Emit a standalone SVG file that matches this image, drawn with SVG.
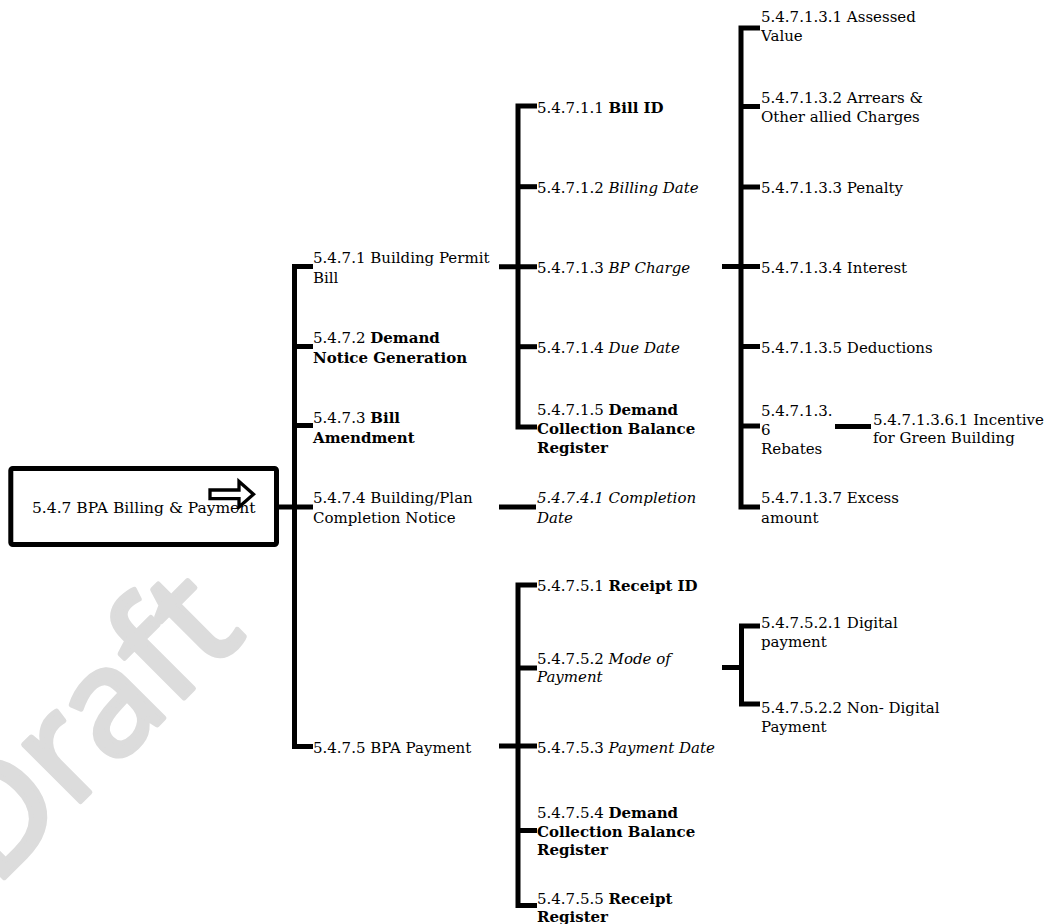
<svg xmlns="http://www.w3.org/2000/svg" width="1050" height="924" viewBox="0 0 1050 924">
<style>
.t{font-family:"DejaVu Serif",serif;font-size:15px;fill:#000}
.b{font-weight:bold}
.i{font-style:italic}
.ln{fill:none;stroke:#000;stroke-width:5;stroke-linejoin:miter;stroke-linecap:butt}
.wm{font-family:"Noto Sans",sans-serif;font-size:150px;fill:#dcdcdc;stroke:#dcdcdc;stroke-width:5;stroke-linejoin:round}
</style>
<rect x="0" y="0" width="1050" height="924" fill="#fff"/>
<text class="wm" x="-6" y="888" transform="rotate(-45 -6 888)">Draft</text>

<g id="connectors">
<path class="ln" d="M278 507 H313"/>
<path class="ln" d="M313 266.5 H294.5 V746.5 H313"/>
<path class="ln" d="M294.5 346.5 H313"/>
<path class="ln" d="M294.5 425.5 H313"/>
<path class="ln" d="M499 266.7 H537"/>
<path class="ln" d="M537 106 H518 V427 H537"/>
<path class="ln" d="M518 186.7 H537"/>
<path class="ln" d="M518 346.7 H537"/>
<path class="ln" d="M499 507 H536"/>
<path class="ln" d="M499 746 H537"/>
<path class="ln" d="M537 585 H518 V905.5 H537"/>
<path class="ln" d="M518 668 H537"/>
<path class="ln" d="M518 830.5 H537"/>
<path class="ln" d="M722 266.5 H760"/>
<path class="ln" d="M760 28 H741 V507 H760"/>
<path class="ln" d="M741 106.5 H760"/>
<path class="ln" d="M741 187 H760"/>
<path class="ln" d="M741 346.5 H760"/>
<path class="ln" d="M741 426 H760"/>
<path class="ln" d="M835 426.5 H871"/>
<path class="ln" d="M722 667.5 H741.5"/>
<path class="ln" d="M760 626 H741.5 V704 H760"/>
</g>

<g id="n547">
<rect x="10.8" y="468.5" width="265.7" height="76" rx="2" fill="#fff" stroke="#000" stroke-width="5"/>
<text class="t" x="32" y="513" style="font-size:15.5px">5.4.7 BPA Billing &amp; Payment</text>
<polygon points="210,490 239,490 239,481.5 253.5,494.3 239,507 239,498.7 210,498.7" fill="#fff" stroke="#000" stroke-width="3.3"/>
</g>

<g id="n5471"><text class="t" x="313" y="263">5.4.7.1 Building Permit</text><text class="t" x="313" y="282.5">Bill</text></g>
<g id="n5472"><text class="t" x="313" y="343">5.4.7.2 <tspan class="b">Demand</tspan></text><text class="t b" x="313" y="362.5">Notice Generation</text></g>
<g id="n5473"><text class="t" x="313" y="423">5.4.7.3 <tspan class="b">Bill</tspan></text><text class="t b" x="313" y="442.5">Amendment</text></g>
<g id="n5474"><text class="t" x="313" y="503">5.4.7.4 Building/Plan</text><text class="t" x="313" y="522.5">Completion Notice</text></g>
<g id="n5475"><text class="t" x="313" y="752.5">5.4.7.5 BPA Payment</text></g>

<g id="n54711"><text class="t" x="537" y="112.5">5.4.7.1.1 <tspan class="b">Bill ID</tspan></text></g>
<g id="n54712"><text class="t" x="537" y="193">5.4.7.1.2 <tspan class="i">Billing Date</tspan></text></g>
<g id="n54713"><text class="t" x="537" y="273">5.4.7.1.3 <tspan class="i">BP Charge</tspan></text></g>
<g id="n54714"><text class="t" x="537" y="353">5.4.7.1.4 <tspan class="i">Due Date</tspan></text></g>
<g id="n54715"><text class="t" x="537" y="415">5.4.7.1.5 <tspan class="b">Demand</tspan></text><text class="t b" x="537" y="434">Collection Balance</text><text class="t b" x="537" y="453">Register</text></g>
<g id="n54741"><text class="t i" x="537" y="503">5.4.7.4.1 Completion</text><text class="t i" x="537" y="522.5">Date</text></g>
<g id="n54751"><text class="t" x="537" y="591">5.4.7.5.1 <tspan class="b">Receipt ID</tspan></text></g>
<g id="n54752"><text class="t" x="537" y="663.5">5.4.7.5.2 <tspan class="i">Mode of</tspan></text><text class="t i" x="537" y="682">Payment</text></g>
<g id="n54753"><text class="t" x="537" y="752.5">5.4.7.5.3 <tspan class="i">Payment Date</tspan></text></g>
<g id="n54754"><text class="t" x="537" y="818">5.4.7.5.4 <tspan class="b">Demand</tspan></text><text class="t b" x="537" y="836.7">Collection Balance</text><text class="t b" x="537" y="855.4">Register</text></g>
<g id="n54755"><text class="t" x="537" y="903.5">5.4.7.5.5 <tspan class="b">Receipt</tspan></text><text class="t b" x="537" y="922">Register</text></g>

<g id="n547131"><text class="t" x="761" y="21.5">5.4.7.1.3.1 Assessed</text><text class="t" x="761" y="40.5">Value</text></g>
<g id="n547132"><text class="t" x="761" y="103">5.4.7.1.3.2 Arrears &amp;</text><text class="t" x="761" y="122">Other allied Charges</text></g>
<g id="n547133"><text class="t" x="761" y="193">5.4.7.1.3.3 Penalty</text></g>
<g id="n547134"><text class="t" x="761" y="272.5">5.4.7.1.3.4 Interest</text></g>
<g id="n547135"><text class="t" x="761" y="352.7">5.4.7.1.3.5 Deductions</text></g>
<g id="n547136"><text class="t" x="761" y="416">5.4.7.1.3.</text><text class="t" x="761" y="435">6</text><text class="t" x="761" y="454">Rebates</text></g>
<g id="n5471361"><text class="t" x="873" y="424.5">5.4.7.1.3.6.1 Incentive</text><text class="t" x="873" y="443">for Green Building</text></g>
<g id="n547137"><text class="t" x="761" y="503">5.4.7.1.3.7 Excess</text><text class="t" x="761" y="522.5">amount</text></g>
<g id="n547521"><text class="t" x="761" y="628">5.4.7.5.2.1 Digital</text><text class="t" x="761" y="646.5">payment</text></g>
<g id="n547522"><text class="t" x="761" y="713">5.4.7.5.2.2 Non- Digital</text><text class="t" x="761" y="731.5">Payment</text></g>
</svg>
